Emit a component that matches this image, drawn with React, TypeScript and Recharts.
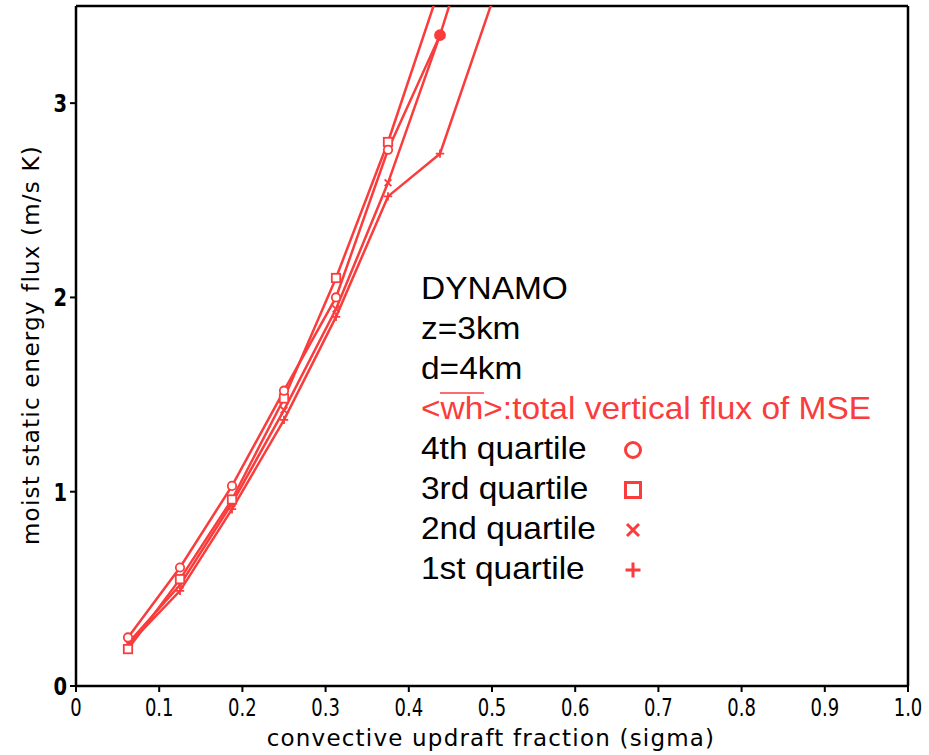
import React from "react";
import { LineChart, Line, XAxis, YAxis, ReferenceLine } from "recharts";

// convective updraft fraction (sigma) sample points
const sigma = [0.0625, 0.125, 0.1875, 0.25, 0.3125, 0.375, 0.4375, 0.5];

// moist static energy flux (m/s K) per quartile
const q4Flux = [0.25, 0.61, 1.03, 1.52, 2.0, 2.76, 3.35, 4.2];
const q3Flux = [0.19, 0.55, 0.96, 1.48, 2.1, 2.8, 3.6];
const q2Flux = [0.22, 0.52, 0.94, 1.42, 1.94, 2.59, 3.35];
const q1Flux = [0.21, 0.49, 0.91, 1.37, 1.9, 2.52, 2.74, 3.52];

const xTicks = [0, 0.1, 0.2, 0.3, 0.4, 0.5, 0.6, 0.7, 0.8, 0.9, 1.0];
const yTicks = [0, 1, 2, 3];

const infoLines = ["DYNAMO", "z=3km", "d=4km"];
const quartileLabels = ["4th quartile", "3rd quartile", "2nd quartile", "1st quartile"];

const RED = "#FA3C3C";
const W = 929;
const H = 755;

const toPoints = (vals: number[]) => vals.map((v, i) => ({ x: sigma[i], y: v }));

type Kind = "circle" | "square" | "cross" | "plus";

const Marker = ({
  kind,
  cx,
  cy,
  s,
  sw,
  filled,
}: {
  kind: Kind;
  cx: number;
  cy: number;
  s: number;
  sw: number;
  filled?: boolean;
}) => {
  if (kind === "circle")
    return <circle cx={cx} cy={cy} r={s} fill={filled ? RED : "#fff"} stroke={RED} strokeWidth={sw} />;
  if (kind === "square")
    return <rect x={cx - s} y={cy - s} width={2 * s} height={2 * s} fill="#fff" stroke={RED} strokeWidth={sw} />;
  if (kind === "cross")
    return (
      <path
        d={`M${cx - s * 0.8},${cy - s * 0.8}L${cx + s * 0.8},${cy + s * 0.8}M${cx - s * 0.8},${cy + s * 0.8}L${cx + s * 0.8},${cy - s * 0.8}`}
        stroke={RED}
        strokeWidth={sw}
      />
    );
  return <path d={`M${cx - s},${cy}L${cx + s},${cy}M${cx},${cy - s}L${cx},${cy + s}`} stroke={RED} strokeWidth={sw} />;
};

// the 4th and 2nd quartile markers overlap at sigma=0.4375 and look like a solid dot
const dotFor = (kind: Kind) => (p: any) => (
  <g key={`${kind}-${p.index}`}>
    <Marker
      kind={kind}
      cx={p.cx}
      cy={p.cy}
      s={kind === "circle" && p.index === 6 ? 5 : 4.2}
      sw={1.8}
      filled={kind === "circle" && p.index === 6}
    />
  </g>
);

const fmtX = (v: number) => (v === 0 ? "0" : v.toFixed(1));

const XTick = (props: any) => {
  const { x, y, payload } = props;
  return (
    <g transform={`translate(${x},${y + 22}) scale(0.72,1)`}>
      <text x={0} y={0} textAnchor="middle" fontSize={25} fontFamily="DejaVu Sans" fill="#000">
        {fmtX(payload.value)}
      </text>
    </g>
  );
};

const YTick = (props: any) => {
  const { x, y, payload } = props;
  return (
    <g transform={`translate(${x - 1},${y + 9}) scale(0.78,1)`}>
      <text x={0} y={0} textAnchor="end" fontSize={25} fontFamily="DejaVu Sans" fontWeight="bold" fill="#000">
        {payload.value}
      </text>
    </g>
  );
};

const series: { kind: Kind; vals: number[] }[] = [
  { kind: "plus", vals: q1Flux },
  { kind: "cross", vals: q2Flux },
  { kind: "square", vals: q3Flux },
  { kind: "circle", vals: q4Flux },
];

export default function App() {
  const baseY = 299;
  const step = 40;
  return (
    <div style={{ position: "relative", width: W, height: H, background: "#fff" }}>
      <style>{"body{margin:0}"}</style>
      <LineChart width={W} height={H} margin={{ top: 6, right: 21, left: 0, bottom: 0 }}>
        <XAxis
          type="number"
          dataKey="x"
          domain={[0, 1]}
          ticks={xTicks}
          allowDataOverflow
          height={69}
          stroke="#000"
          strokeWidth={2.5}
          tickSize={6}
          tickLine={{ stroke: "#000", strokeWidth: 2 }}
          tick={<XTick />}
        />
        <YAxis
          type="number"
          dataKey="y"
          domain={[0, 3.5]}
          ticks={yTicks}
          allowDataOverflow
          width={76}
          stroke="#000"
          strokeWidth={2.5}
          tickSize={6}
          tickLine={{ stroke: "#000", strokeWidth: 2 }}
          tick={<YTick />}
        />
        <ReferenceLine y={3.5} stroke="#000" strokeWidth={2.5} />
        <ReferenceLine x={1} stroke="#000" strokeWidth={2.5} />
        {series.map((s) => (
          <Line
            key={s.kind}
            data={toPoints(s.vals)}
            dataKey="y"
            type="linear"
            stroke={RED}
            strokeWidth={2.5}
            dot={dotFor(s.kind)}
            isAnimationActive={false}
          />
        ))}
      </LineChart>
      <svg width={W} height={H} style={{ position: "absolute", left: 0, top: 0, pointerEvents: "none" }}>
        <g fontFamily="DejaVu Sans" fill="#000" fontSize={23} letterSpacing={1.2}>
          <text x={491} y={746} textAnchor="middle">
            convective updraft fraction (sigma)
          </text>
          <text x={0} y={0} textAnchor="middle" transform="translate(39,345) rotate(-90)">
            moist static energy flux (m/s K)
          </text>
        </g>
        <g fontFamily="Liberation Sans, Arial, sans-serif" fontSize={31}>
          {infoLines.map((t, i) => (
            <g key={t} transform={`translate(421,${baseY + i * step}) scale(1.08,1)`}>
              <text x={0} y={0} fill="#000">
                {t}
              </text>
            </g>
          ))}
          <g transform={`translate(421,${baseY + 3 * step}) scale(1.08,1)`}>
            <text x={0} y={0} fill={RED}>
              {"<wh>:total vertical flux of MSE"}
            </text>
          </g>
          <line x1={440} x2={484} y1={393} y2={393} stroke={RED} strokeWidth={1.5} />
          {quartileLabels.map((t, i) => (
            <g key={t}>
              <g transform={`translate(421,${baseY + (4 + i) * step}) scale(1.08,1)`}>
                <text x={0} y={0} fill="#000">
                  {t}
                </text>
              </g>
              <Marker kind={series[3 - i].kind} cx={633} cy={baseY + (4 + i) * step - 9} s={7.5} sw={3} />
            </g>
          ))}
        </g>
      </svg>
    </div>
  );
}
